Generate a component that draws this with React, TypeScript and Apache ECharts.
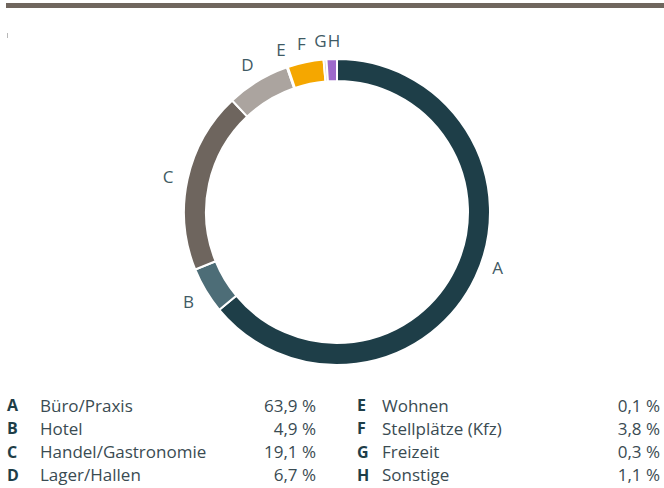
import React, { useEffect, useRef } from "react";
import * as echarts from "echarts";

const letters = ["A", "B", "C", "D", "E", "F", "G", "H"];
const categories = [
  "Büro/Praxis",
  "Hotel",
  "Handel/Gastronomie",
  "Lager/Hallen",
  "Wohnen",
  "Stellplätze (Kfz)",
  "Freizeit",
  "Sonstige",
];
const shares = [63.9, 4.9, 19.1, 6.7, 0.1, 3.8, 0.3, 1.1];
const colors = ["#1e3e48", "#4d6d77", "#6e655e", "#aba49f", "#d6d2cf", "#f5a700", "#cfcbc8", "#9d6acb"];

const fmt = (v: number) => v.toFixed(1).replace(".", ",") + " %";

const FONT = "'Open Sans', 'Noto Sans', sans-serif";

// small nudges for ring labels that sit too close together (style only)
const labelNudge: Record<number, number[]> = { 0: [4, -19], 6: [-3, 0], 7: [3, 0] };

export default function App() {
  const ref = useRef<HTMLDivElement>(null);
  useEffect(() => {
    if (!ref.current) return;
    const chart = echarts.init(ref.current, undefined, { renderer: "svg" });

    const legendEls: any[] = [];
    const letterX = [7, 357];
    const nameX = [40, 382];
    const valueR = [316, 660];
    letters.forEach((l, i) => {
      const col = i < 4 ? 0 : 1;
      const row = i % 4;
      const y = 405 + row * 23.3;
      legendEls.push({
        type: "text",
        x: letterX[col],
        y,
        style: { text: l, font: `bold 16px ${FONT}`, fill: "#1e3e48", align: "left", verticalAlign: "middle" },
      });
      legendEls.push({
        type: "text",
        x: nameX[col],
        y,
        style: { text: categories[i], font: `17px ${FONT}`, fill: "#3a4b52", align: "left", verticalAlign: "middle" },
      });
      legendEls.push({
        type: "text",
        x: valueR[col],
        y,
        style: { text: fmt(shares[i]), font: `17px ${FONT}`, fill: "#3a4b52", align: "right", verticalAlign: "middle" },
      });
    });

    const data = categories.map((c, i) => ({
      name: c,
      value: shares[i],
      itemStyle: { color: colors[i] },
    }));
    const labelData = categories.map((c, i) => ({
      name: letters[i],
      value: shares[i],
      label: labelNudge[i] ? { offset: labelNudge[i] } : undefined,
    }));

    chart.setOption({
      animation: false,
      graphic: [
        { type: "rect", shape: { x: 6, y: 3, width: 658, height: 5 }, style: { fill: "#70665e" } },
        { type: "line", shape: { x1: 7.5, y1: 33, x2: 7.5, y2: 38 }, style: { stroke: "#b8b8b8", lineWidth: 1 } },
        ...legendEls,
      ],
      series: [
        {
          type: "pie",
          center: [337, 212],
          radius: [131, 153],
          startAngle: 90,
          clockwise: true,
          avoidLabelOverlap: false,
          silent: true,
          itemStyle: { borderColor: "#ffffff", borderWidth: 2 },
          label: { show: false },
          labelLine: { show: false },
          data,
        },
        {
          type: "pie",
          center: [337, 213],
          radius: [160, 180],
          startAngle: 90,
          clockwise: true,
          avoidLabelOverlap: false,
          silent: true,
          itemStyle: { color: "rgba(0,0,0,0)" },
          labelLayout: { hideOverlap: false },
          label: {
            show: true,
            position: "inside",
            formatter: "{b}",
            color: "#3f5a64",
            fontSize: 17,
            fontFamily: FONT,
          },
          labelLine: { show: false },
          data: labelData,
        },
      ],
    });
    return () => chart.dispose();
  }, []);
  return <div ref={ref} style={{ position: "absolute", left: 0, top: 0, width: 664, height: 488 }} />;
}
